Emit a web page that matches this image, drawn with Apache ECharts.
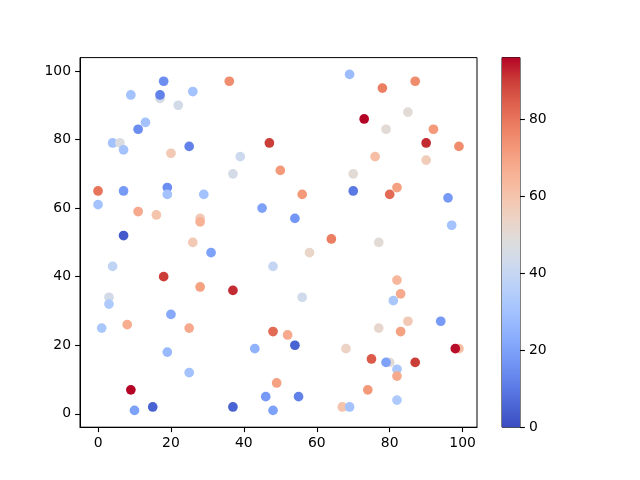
<!DOCTYPE html>
<html>
<head>
<meta charset="utf-8">
<script src="https://cdn.jsdelivr.net/npm/echarts@6/dist/echarts.min.js"></script>
<style>html,body{margin:0;padding:0;background:#fff;}#c{width:640px;height:480px;}</style>
</head>
<body>
<div id="c"></div>
<script>
// point data: x, y, colour value
const xs = [0,0,1,3,3,4,4,6,7,7,7,8,9,9,10,11,11,13,15,16,17,17,18,18,19,19,19,20,20,22,25,25,25,26,26,28,28,28,29,31,36,37,37,37,39,43,45,46,47,48,48,48,49,50,52,54,54,55,56,56,58,64,67,68,69,69,70,70,73,74,75,76,77,77,78,79,80,79,80,81,82,82,82,82,82,83,83,85,85,87,87,90,90,92,94,96,97,99,98,99];
const ys = [65,61,25,34,32,43,79,79,77,65,52,26,93,7,1,83,59,85,2,58,92,93,97,40,66,64,18,29,76,90,78,25,12,94,50,57,56,37,64,47,97,70,36,2,75,19,60,5,79,43,24,1,9,71,23,57,20,5,64,34,47,51,2,19,99,2,70,65,86,7,16,75,50,25,95,83,15,15,64,33,66,39,13,11,4,35,24,88,27,97,15,79,74,83,27,63,55,19,19,78];
const cs = [80,30,32,44,33,38,30,47,30,18,3,67,30,96,20,15,68,30,5,60,45,12,15,90,15,30,27,22,58,44,12,68,30,30,58,58,66,70,30,20,75,45,92,5,42,25,20,18,90,40,82,20,70,72,68,17,5,12,72,43,53,78,60,54,28,30,50,10,96,72,85,62,50,52,78,50,50,20,82,32,70,64,32,68,33,68,70,50,58,75,90,92,57,72,18,18,30,62,95,75];
const xTicks = [0,20,40,60,80,100];
const yTicks = [0,20,40,60,80,100];
const cTicks = [0,20,40,60,80];
const cMin = 0, cMax = 96;
const coolwarm = ['#3b4cc0','#4d68d7','#6282ea','#779af7','#8db0fe','#a3c2fe','#b8d0f9','#ccd9ee','#dddddd','#ecd3c5','#f5c4ac','#f7b194','#f49a7b','#ec7f63','#de604d','#cb3e38','#b40426'];

const data = xs.map((x,i)=>[x, ys[i], cs[i]]);
const stops = coolwarm.map((c,i)=>({offset:i/(coolwarm.length-1), color:c}));
const font = {fontFamily:'DejaVu Sans', fontSize:13.9, color:'#000'};
const axLine = {show:true, onZero:false, lineStyle:{color:'#000', width:1}};
const tick = vals => ({show:true, length:4.9, inside:false, lineStyle:{color:'#000', width:1.1}, customValues:vals});

const chart = echarts.init(document.getElementById('c'), null, {renderer:'canvas'});
chart.setOption({
  animation:false,
  backgroundColor:'#fff',
  grid:[
    {left:80, top:57.6, width:397, height:369.6, show:true, borderColor:'#000', borderWidth:1, backgroundColor:'#fff'},
    {left:502, top:57.6, width:18, height:369.6, show:true, borderColor:'#000', borderWidth:1}
  ],
  xAxis:[
    {gridIndex:0, type:'value', min:-4.95, max:103.95, axisLine:axLine, axisTick:tick(xTicks),
     axisLabel:Object.assign({margin:9, customValues:xTicks}, font), splitLine:{show:false}},
    {gridIndex:1, type:'category', data:['c'], show:false, boundaryGap:true}
  ],
  yAxis:[
    {gridIndex:0, type:'value', min:-3.9, max:103.9, axisLine:axLine, axisTick:tick(yTicks),
     axisLabel:Object.assign({margin:9, customValues:yTicks}, font), splitLine:{show:false}},
    {gridIndex:1, type:'value', min:cMin, max:cMax, position:'right', axisLine:{show:false}, axisTick:tick(cTicks),
     axisLabel:Object.assign({margin:9, customValues:cTicks}, font), splitLine:{show:false}}
  ],
  visualMap:{show:false, type:'continuous', dimension:2, seriesIndex:0, min:cMin, max:cMax, inRange:{color:coolwarm}},
  series:[
    {type:'scatter', xAxisIndex:0, yAxisIndex:0, data:data, symbolSize:9.7, itemStyle:{opacity:1}},
    {type:'bar', xAxisIndex:1, yAxisIndex:1, data:[cMax], barWidth:'100%',
     itemStyle:{color:new echarts.graphic.LinearGradient(0,1,0,0,stops)}, silent:true}
  ]
});
</script>
</body>
</html>
